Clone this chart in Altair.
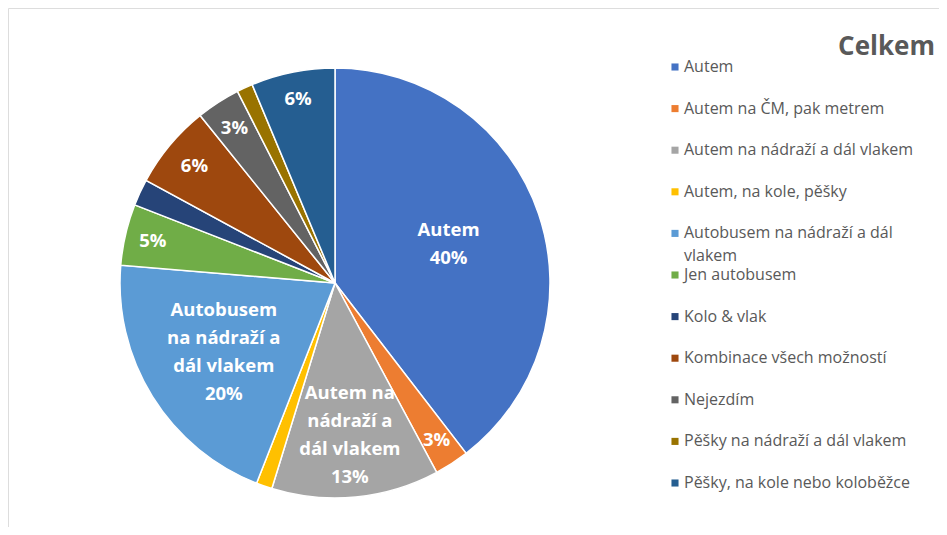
import altair as alt
import pandas as pd

categories = [
    "Autem",
    "Autem na ČM, pak metrem",
    "Autem na nádraží a dál vlakem",
    "Autem, na kole, pěšky",
    "Autobusem na nádraží a dál vlakem",
    "Jen autobusem",
    "Kolo & vlak",
    "Kombinace všech možností",
    "Nejezdím",
    "Pěšky na nádraží a dál vlakem",
    "Pěšky, na kole nebo koloběžce",
]
values = [39.6, 2.6, 12.6, 1.2, 20.4, 4.6, 2.0, 6.3, 3.3, 1.2, 6.3]
colors = ["#4472C4", "#ED7D31", "#A5A5A5", "#FFC000", "#5B9BD5", "#70AD47",
          "#264478", "#9E480E", "#636363", "#997300", "#255E91"]
slice_names = ["Autem", "", "Autem na\nnádraží a\ndál vlakem", "",
               "Autobusem\nna nádraží a\ndál vlakem", "", "", "", "", "", ""]
show_label = [True, True, True, False, True, True, False, True, True, False, True]
legend_labels = [
    "Autem",
    "Autem na ČM, pak metrem",
    "Autem na nádraží a dál vlakem",
    "Autem, na kole, pěšky",
    "Autobusem na nádraží a dál\nvlakem",
    "Jen autobusem",
    "Kolo & vlak",
    "Kombinace všech možností",
    "Nejezdím",
    "Pěšky na nádraží a dál vlakem",
    "Pěšky, na kole nebo koloběžce",
]
title_text = "Celkem"
label_radius = [120, 187, 153, 0, 131, 187, 0, 183, 185, 0, 188]

total = sum(values)
labels = []
for name, v, s in zip(slice_names, values, show_label):
    if not s:
        labels.append("")
        continue
    pct = f"{round(v / total * 100):.0f}%"
    labels.append(f"{name}\n{pct}" if name else pct)

df = pd.DataFrame({
    "idx": list(range(len(categories))),
    "category": categories,
    "value": values,
    "label": labels,
    "nl": [lab.count("\n") + 1 for lab in labels],
    "lr": label_radius,
    "leg": legend_labels,
})

CX, CY, R = 327, 275, 215
LH = 28
color = alt.Color("category:N", scale=alt.Scale(domain=categories, range=colors), legend=None)
base = alt.Chart(df)

pie = base.mark_arc(outerRadius=R, stroke="white", strokeWidth=1.5).encode(
    theta=alt.Theta("value:Q", stack=True),
    order=alt.Order("idx:Q"),
    color=color,
    x=alt.value(CX), y=alt.value(CY),
)

text_base = base.transform_window(
    cum="sum(value)", sort=[alt.SortField("idx", order="ascending")], frame=[None, 0]
).transform_calculate(
    mid="datum.cum - datum.value / 2"
)

text_layers = []
for n in sorted(set(df["nl"])):
    text_layers.append(
        text_base.transform_filter(alt.datum.nl == n).mark_text(
            font="Open Sans", fontSize=18.5, fontWeight="bold", color="white",
            lineBreak="\n", lineHeight=LH, align="center", baseline="middle",
            dy=-(n - 1) * LH / 2,
        ).encode(
            theta=alt.Theta("mid:Q", stack=False),
            radius=alt.Radius("lr:Q", scale=None),
            text="label:N",
            x=alt.value(CX), y=alt.value(CY),
        )
    )

yleg = alt.Y("category:N", sort=categories,
             scale=alt.Scale(type="point", domain=categories, range=[59, 475], padding=0),
             axis=None)

leg_sym = base.mark_square(size=50, opacity=1).encode(
    y=yleg, x=alt.value(667), color=color,
)
leg_text = base.mark_text(
    font="Open Sans", fontSize=16, color="#595959", align="left",
    baseline="middle", lineBreak="\n", lineHeight=23,
).encode(
    y=yleg, x=alt.value(676), text="leg:N",
)

title = alt.Chart(pd.DataFrame({"t": [title_text]})).mark_text(
    font="Open Sans", fontSize=26, fontWeight="bold", color="#595959",
    align="right", baseline="alphabetic",
).encode(text="t:N", x=alt.value(927), y=alt.value(47))

chart = alt.layer(pie, *text_layers, leg_sym, leg_text, title).properties(
    width=931, height=519,
    autosize=alt.AutoSizeParams(type="none"),
    padding=0,
).configure_view(stroke=None).configure(background="white")

chart.save("out.html", embed_options={"renderer": "svg", "actions": False})
